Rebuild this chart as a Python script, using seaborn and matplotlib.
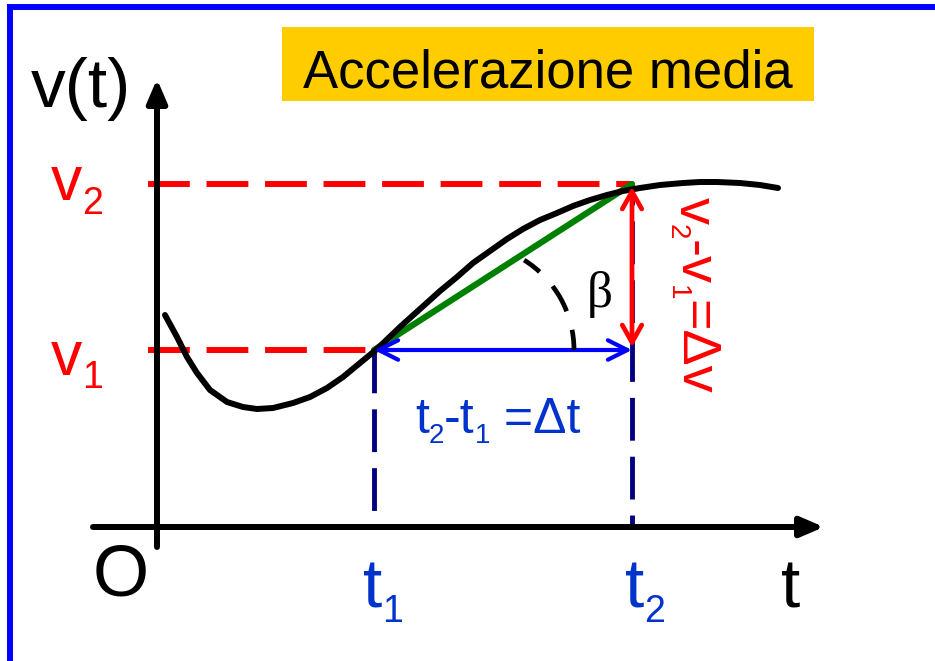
import matplotlib.pyplot as plt
import seaborn as sns
from matplotlib.patches import Arc, Rectangle

# =========================================================
# DATI (origine O = incrocio degli assi, unità ~ pixel)
# =========================================================
t_curve = [8, 14, 20, 30, 40, 53, 70, 86, 100, 116, 136, 153, 170, 186, 203, 220,
           243, 263, 283, 300, 316, 333, 350, 366, 383, 400, 416, 433, 450, 466,
           483, 503, 526, 543, 560, 583, 603, 621]
v_curve = [212, 201, 190, 170, 154, 137, 125, 120, 118, 119, 124, 130, 139, 150, 164, 178,
           200, 218, 236, 250, 264, 276, 288, 298, 307, 314, 321, 327, 332, 336,
           339, 342, 344, 345, 345, 344, 342, 339]

t1, t2 = 217, 475
v1, v2 = 177, 343

title = "Accelerazione media"
blue_txt = "#0033CC"

# =========================================================
# FIGURA
# =========================================================
sns.set_theme(style="white")
plt.rcParams["font.family"] = ["Liberation Sans", "DejaVu Sans"]

fig = plt.figure(figsize=(9.35, 6.61), dpi=100)
ax = fig.add_axes([0, 0, 1, 1])
ax.set_xlim(-157, 778)
ax.set_ylim(-134, 527)
ax.axis("off")


def P(x, y):
    # posizione in pixel dell'immagine -> coordinate del grafico
    return x - 157, 527 - y


def chain(x0, y0, parts, color, vertical=False):
    prev = None
    for s, size, shift in parts:
        if vertical:
            xy = (x0 - shift, 0 if prev else y0)
            coords = ("data", prev if prev else "data")
            rot = -90
        else:
            xy = (1 if prev else x0, y0 - shift)
            coords = (prev if prev else "data", "data")
            rot = 0
        prev = ax.annotate(s, xy=xy, xycoords=coords, fontsize=size, color=color,
                           ha="left", va="baseline", rotation=rot,
                           rotation_mode="anchor", annotation_clip=False)
    return prev


# cornice blu
ax.plot(*zip(P(7, 7), P(935, 7)), color="#0000FF", lw=4.3, solid_capstyle="butt")
ax.plot(*zip(P(10, 5), P(10, 661)), color="#0000FF", lw=4.3, solid_capstyle="butt")

# titolo
x0, y0 = P(282, 101)
ax.add_patch(Rectangle((x0, y0), 532, 74, color="#FFCC00", lw=0))
ax.text(*P(548, 88), title, fontsize=38, color="black", ha="center", va="baseline")

# assi con frecce
head = dict(arrowstyle="-|>,head_length=1.4,head_width=0.6", mutation_scale=10,
            lw=4.3, color="black", shrinkA=0, shrinkB=0)
ax.annotate("", xy=P(157, 79), xytext=P(157, 547), arrowprops=head)
ax.annotate("", xy=P(824, 527), xytext=P(93, 527), arrowprops=head)

# tratteggi
ax.plot([-9, t2], [v2, v2], color="red", lw=4.3, dashes=(7, 2.8), zorder=2)
ax.plot([-9, t1], [v1, v1], color="red", lw=4.3, dashes=(7, 2.8), zorder=2)
ax.plot([t1, t1], [v1, 0], color="#000080", lw=3.5, dashes=(8.8, 3.3), zorder=2)
ax.plot([t2, t2], [v2, 0], color="#000080", lw=3.5, ls=(4.5, (8.8, 3.3)), zorder=2)

# corda e curva
sns.lineplot(x=[t1, t2], y=[v1, v2], color="#008000", lw=4.5, ax=ax, zorder=3)
sns.lineplot(x=t_curve, y=v_curve, color="black", lw=4.3, sort=False,
             estimator=None, ax=ax, zorder=4)

# frecce doppie
ax.annotate("", xy=(t2, v1), xytext=(t1, v1),
            arrowprops=dict(arrowstyle="<->,head_length=1.4,head_width=0.7",
                            mutation_scale=10, lw=3, color="#0000FF",
                            shrinkA=0, shrinkB=0), zorder=5)
ax.annotate("", xy=(t2, v2), xytext=(t2, v1),
            arrowprops=dict(arrowstyle="<->,head_length=1.25,head_width=0.7",
                            mutation_scale=10, lw=3.4, color="red",
                            shrinkA=2, shrinkB=2), zorder=5)

# angolo beta
ax.add_patch(Arc((t1 + 94, v1), 212, 212, theta1=0, theta2=58, color="black",
                 lw=3.4, ls=(1.8, (6.1, 4.1)), zorder=5))
ax.text(*P(587, 307), "β", fontsize=37, color="black", ha="left", va="baseline",
        family=["Liberation Serif", "DejaVu Serif"])

# etichette
ax.text(*P(31, 107), "v(t)", fontsize=50, color="black", ha="left", va="baseline")
ax.text(*P(121, 596), "O", fontsize=52, color="black", ha="center", va="baseline")
ax.text(*P(781, 607), "t", fontsize=50, color="black", ha="left", va="baseline")

chain(*P(51, 200), [("v", 45, 0), ("2", 27, 14)], "red")
chain(*P(51, 375), [("v", 45, 0), ("1", 27, 13)], "red")
chain(*P(363, 608), [("t", 50, 0), ("1", 27, 14)], blue_txt)
chain(*P(625, 608), [("t", 50, 0), ("2", 27, 14)], blue_txt)
chain(*P(415, 433), [("t", 36, 0), ("2", 20, 10), ("-t", 36, 0), ("1", 20, 10),
                     (" =Δt", 36, 0)], blue_txt)
chain(*P(680, 197), [("v", 39, 0), ("2", 20, 10), ("-v", 39, 0), ("1", 20, 10),
                     ("=Δv", 39, 0)], "red", vertical=True)

fig.savefig("out.png", dpi=100)
plt.close(fig)
